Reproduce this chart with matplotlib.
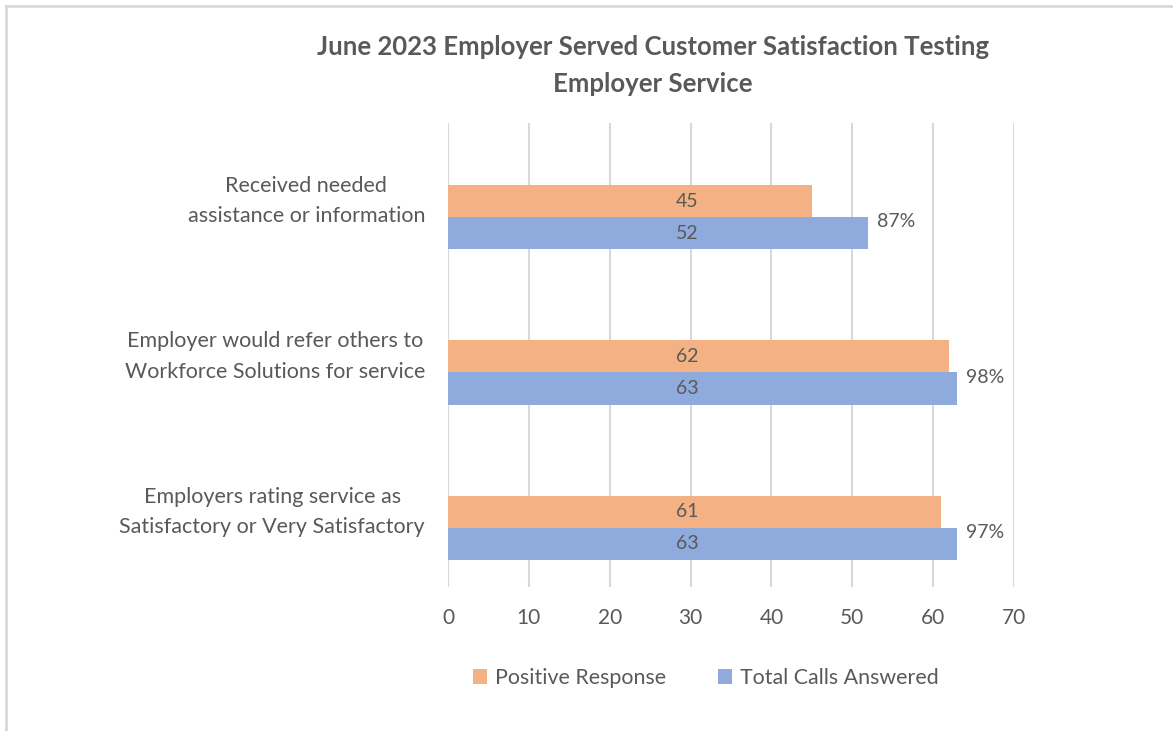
import numpy as np
import matplotlib
matplotlib.use("Agg")
import matplotlib.pyplot as plt
import matplotlib.transforms as mtransforms
from matplotlib.lines import Line2D

plt.rcParams['font.family'] = ['Lato', 'DejaVu Sans']

# data
categories = [
    "Received needed\nassistance or information",
    "Employer would refer others to\nWorkforce Solutions for service",
    "Employers rating service as\nSatisfactory or Very Satisfactory",
]
positive = [45, 62, 61]
total = [52, 63, 63]
percent = [87, 98, 97]
series_names = ["Positive Response", "Total Calls Answered"]

ORANGE = "#F4B183"
BLUE = "#8FAADC"
TEXT = "#595959"
GRID = "#D9D9D9"

fig = plt.figure(figsize=(11.73, 7.31), dpi=100)
ax = fig.add_axes([448 / 1173, 1 - 587 / 731, (1014 - 448) / 1173, (587 - 123) / 731])

y = np.arange(len(categories))
h = 0.206
ax.barh(y - h / 2, positive, height=h, color=ORANGE, label=series_names[0], zorder=2)
ax.barh(y + h / 2, total, height=h, color=BLUE, label=series_names[1], zorder=2)

# values inside the bars (Excel put them at a fixed spot)
for i in range(len(categories)):
    ax.text(29.6, y[i] - h / 2, str(positive[i]), ha='center', va='center',
            fontsize=14, color=TEXT, zorder=3)
    ax.text(29.6, y[i] + h / 2, str(total[i]), ha='center', va='center',
            fontsize=14, color=TEXT, zorder=3)
    ax.text(total[i] + 1.1, y[i] + 0.03, f"{percent[i]}%", ha='left', va='center',
            fontsize=14, color=TEXT, zorder=3)

ax.set_xlim(0, 70)
ax.set_ylim(2.38, -0.605)
ax.set_xticks(range(0, 71, 10))
ax.set_yticks([])
ax.tick_params(axis='x', length=0, pad=15, labelsize=15, labelcolor=TEXT)
for s in ax.spines.values():
    s.set_visible(False)
ax.grid(axis='x', color=GRID, linewidth=1.5, zorder=0)
ax.set_axisbelow(True)

# category labels sit a bit above the middle of each bar pair
blend = mtransforms.blended_transform_factory(ax.transAxes, ax.transData)
shift = mtransforms.ScaledTranslation(-0.23, 0.16, fig.dpi_scale_trans)
for i, cat in enumerate(categories):
    ax.text(0, y[i], cat, transform=blend + shift, ha='right', va='center',
            multialignment='center', linespacing=1.65, fontsize=15.5, color=TEXT)

fig.text(653 / 1173, 1 - 47 / 731, "June 2023 Employer Served Customer Satisfaction Testing",
         ha='center', va='center', fontsize=18.5, fontweight='bold', color=TEXT)
fig.text(653 / 1173, 1 - 84 / 731, "Employer Service",
         ha='center', va='center', fontsize=18.5, fontweight='bold', color=TEXT)

fig.legend(loc='center', bbox_to_anchor=(706 / 1173, 1 - 678 / 731), ncol=2,
           frameon=False, fontsize=15.4, labelcolor=TEXT, handlelength=0.65,
           handleheight=0.65, handletextpad=0.4, columnspacing=2.4)

# light frame on the top and left edges
fig.add_artist(Line2D([6 / 1173, 6 / 1173], [0, 1 - 6 / 731], transform=fig.transFigure,
                      color=GRID, linewidth=2))
fig.add_artist(Line2D([6 / 1173, 1], [1 - 6 / 731, 1 - 6 / 731], transform=fig.transFigure,
                      color=GRID, linewidth=2))

fig.savefig("out.png", dpi=100)
